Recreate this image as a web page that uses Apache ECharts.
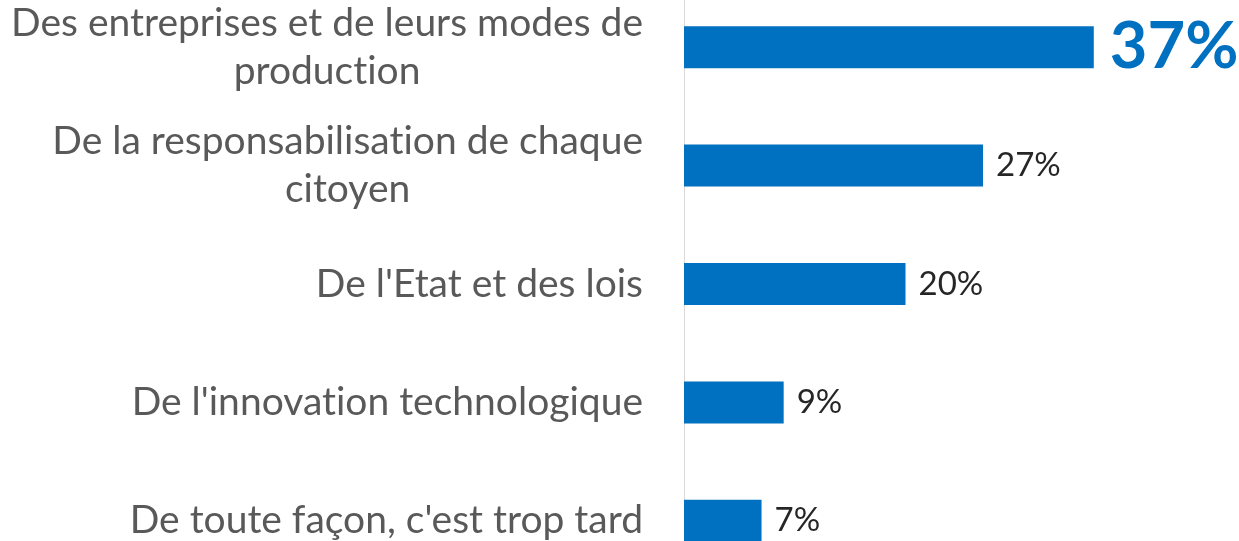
<!DOCTYPE html>
<html>
<head>
<meta charset="utf-8" />
<script src="https://cdn.jsdelivr.net/npm/echarts@6/dist/echarts.min.js"></script>
<style>
  html, body { margin: 0; padding: 0; background: #fff; }
  #chart { width: 1239px; height: 541px; }
</style>
</head>
<body>
<div id="chart"></div>
<script>
const categories = [
  "Des entreprises et de leurs modes de\nproduction",
  "De la responsabilisation de chaque\ncitoyen",
  "De l'Etat et des lois",
  "De l'innovation technologique",
  "De toute façon, c'est trop tard",
];
const values = [37, 27, 20, 9, 7];
const highlightIndex = 0;

const FONT = "Lato, 'Open Sans', sans-serif";

const chart = echarts.init(document.getElementById("chart"), null, { renderer: "canvas" });

// zero-width non-joiner keeps Lato from drawing its "ti" ligature
const noLig = (s) => s.replace(/ti/g, "t\u200Ci");

chart.setOption({
  animation: false,
  grid: {
    left: 684,
    top: -12,
    width: 443,
    height: 592,
    containLabel: false,
    outerBoundsMode: "none",
  },
  xAxis: {
    type: "value",
    min: 0,
    max: 40,
    show: false,
    splitLine: { show: false },
  },
  yAxis: {
    type: "category",
    inverse: true,
    data: categories,
    axisTick: { show: false },
    axisLine: { show: true, lineStyle: { color: "#d9d9d9", width: 1 } },
    axisLabel: {
      margin: 41,
      color: "#595959",
      fontFamily: FONT,
      fontSize: 39,
      lineHeight: 48,
      formatter(v) {
        return v
          .split("\n")
          .map((line) => `{c|${noLig(line)}}`)
          .join("\n");
      },
      rich: {
        c: { align: "center", color: "#595959", fontFamily: FONT, fontSize: 39, lineHeight: 48 },
      },
    },
  },
  series: [
    {
      type: "bar",
      barWidth: 42,
      data: values.map((v, i) => ({
        value: v,
        itemStyle: { color: "#0070C0" },
        label:
          i === highlightIndex
            ? { fontSize: 65, fontWeight: "bold", color: "#0070C0", distance: 16 }
            : {},
      })),
      label: {
        show: true,
        position: "right",
        distance: 13,
        formatter: "{c}%",
        fontFamily: FONT,
        fontSize: 33,
        color: "#262626",
      },
    },
  ],
});
</script>
</body>
</html>
